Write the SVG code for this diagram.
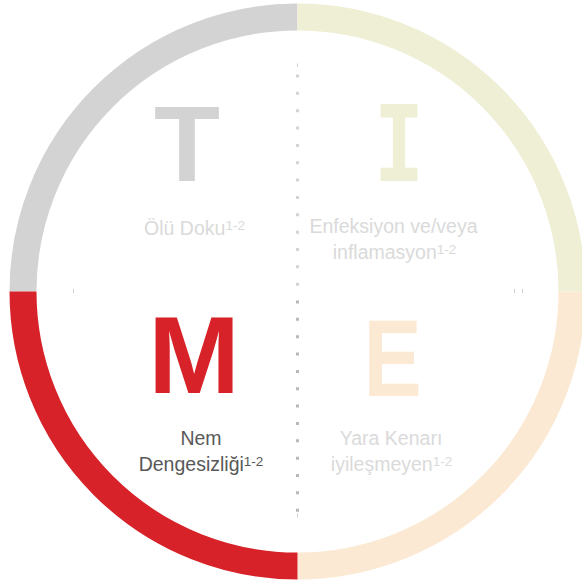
<svg xmlns="http://www.w3.org/2000/svg" width="582" height="582" viewBox="0 0 582 582">
<style>
.ring{fill:none;stroke-width:27;stroke-linecap:butt}
.big{font-family:"Liberation Sans",Arial,sans-serif;font-weight:bold;text-anchor:middle}
.lbl{font-family:"Liberation Sans",Arial,sans-serif;font-size:19.5px;text-anchor:middle;fill:#dadada}
.dark{fill:#585858}
.sup{font-size:13.5px}
.tick{stroke:#d0d0d0;stroke-width:1}
</style>
<rect width="582" height="582" fill="#ffffff"/>
<g id="ring">
<path class="ring" stroke="#d3d3d3" d="M 23 291.5 A 274.5 274.5 0 0 1 297.5 17"/>
<path class="ring" stroke="#efefd6" d="M 297.5 17 A 274.5 274.5 0 0 1 572 291.5"/>
<path class="ring" stroke="#fbe9d3" d="M 572 291.5 A 274.5 274.5 0 0 1 297.5 566"/>
<path class="ring" stroke="#d62228" d="M 297.5 566 A 274.5 274.5 0 0 1 23 291.5"/>
</g>
<g id="divider">
<line x1="297.5" y1="74.5" x2="297.5" y2="292" stroke="#d4d4d4" stroke-width="3" stroke-dasharray="3 14.35"/>
<line x1="297.5" y1="300.5" x2="297.5" y2="512" stroke="#b8b8b8" stroke-width="3" stroke-dasharray="3 14.35"/>
<line class="tick" x1="297.5" y1="63.5" x2="297.5" y2="67"/>
<line class="tick" x1="297.5" y1="513.5" x2="297.5" y2="517"/>
<line class="tick" x1="73.5" y1="289" x2="73.5" y2="293"/>
<line class="tick" x1="514.5" y1="289" x2="514.5" y2="293"/>
<line class="tick" x1="522.5" y1="289" x2="522.5" y2="293"/>
</g>
<g id="node-T">
<text class="big" x="187" y="181" font-size="108" fill="#d3d3d3">T</text>
<text class="lbl" x="194.5" y="235">Ölü Doku<tspan class="sup" dy="-5">1-2</tspan></text>
</g>
<g id="node-I">
<text x="399" y="181" font-family="'DejaVu Sans Mono',monospace" font-weight="bold" font-size="106" text-anchor="middle" fill="#efefd6" textLength="51" lengthAdjust="spacingAndGlyphs">I</text>
<text class="lbl" x="393.5" y="233">Enfeksiyon ve/veya</text>
<text class="lbl" x="394.5" y="259">inflamasyon<tspan class="sup" dy="-5">1-2</tspan></text>
</g>
<g id="node-M">
<text class="big" x="194" y="393" font-size="110" fill="#d62228">M</text>
<text class="lbl dark" x="201" y="445">Nem</text>
<text class="lbl dark" x="201" y="471">Dengesizliği<tspan class="sup" dy="-5">1-2</tspan></text>
</g>
<g id="node-E">
<text class="big" transform="translate(392.5 396) scale(0.8 1)" x="0" y="0" font-size="109" fill="#fbe9d3">E</text>
<text class="lbl" x="391" y="445">Yara Kenarı</text>
<text class="lbl" x="391.5" y="470.5">iyileşmeyen<tspan class="sup" dy="-5">1-2</tspan></text>
</g>
</svg>
